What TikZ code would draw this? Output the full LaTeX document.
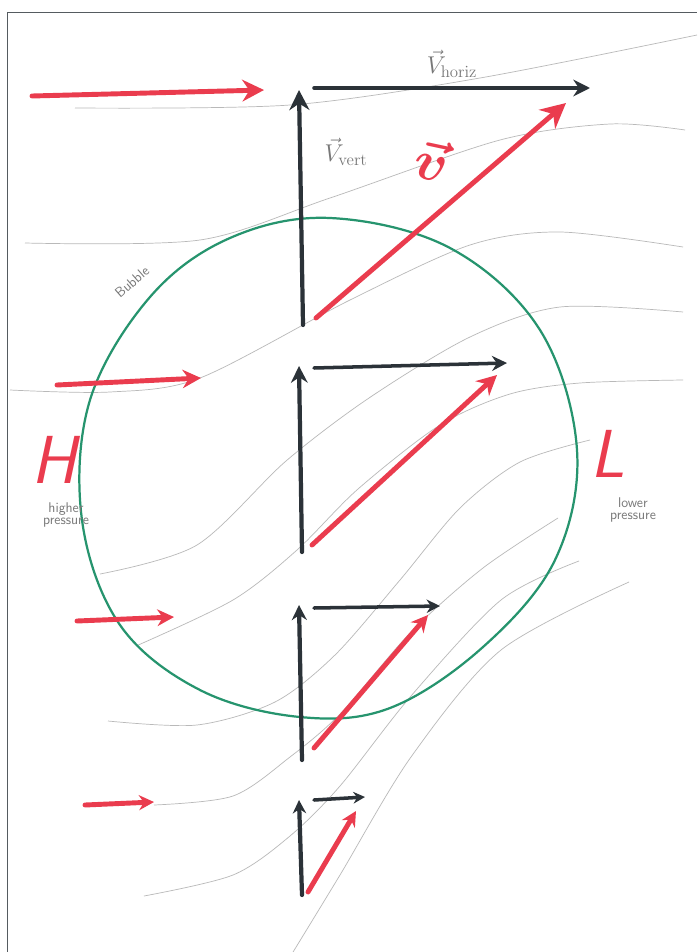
\documentclass[tikz,border=0pt]{standalone}
\usepackage{amsmath,amssymb}
\usepackage{graphicx}
\usepackage{xcolor}
\usepackage{tikz}
\usetikzlibrary{arrows.meta,calc}
\definecolor{inkblack}{RGB}{43,50,56}
\definecolor{inkred}{RGB}{234,60,78}
\definecolor{inkgreen}{RGB}{38,148,110}
\definecolor{pencil}{RGB}{185,185,185}
\definecolor{penciltext}{RGB}{120,120,120}
\tikzset{
  frame/.style={draw=inkblack!80, line width=0.8pt},
  stream/.style={draw=pencil, line width=0.6pt},
  bubbleline/.style={draw=inkgreen, line width=1.9pt},
  upar/.style={-{Stealth[length=#1, width=#1]}, line width=3.6pt, draw=inkblack, line cap=round},
  sidear/.style={-{Stealth[length=#1, width=#1]}, line width=3pt, draw=inkblack, line cap=round},
  velar/.style={-{Stealth[length=#1, width=#1]}, line width=4.2pt, draw=inkred, line cap=round},
  windar/.style={-{Stealth[length=#1, width=#1]}, line width=4.2pt, draw=inkred, line cap=round},
  note/.style={text=penciltext, font=\sffamily\fontsize{12}{13}\selectfont, align=center, inner sep=1pt},
  veclabel/.style={text=penciltext, font=\fontsize{20.74}{22}\selectfont, inner sep=1pt},
  redlabel/.style={text=inkred, font=\Huge, inner sep=0pt},
  presslabel/.style={text=inkred, font=\sffamily\itshape\fontsize{58}{60}\selectfont, inner sep=0pt},
}
\begin{document}
\begin{tikzpicture}[x=0.03cm, y=-0.03cm]
  \useasboundingbox (0,0) rectangle (697,952);
  \fill[white] (0,0) rectangle (697,952);
  \draw[frame] (7,952) -- (7,12) -- (697,12);

  % streamlines
  \draw[stream] plot[smooth] coordinates {(75,108) (290,105) (480,78) (697,35)};
  \draw[stream] plot[smooth] coordinates {(25,243) (200,240) (330,198) (500,140) (610,124) (685,130)};
  \draw[stream] plot[smooth] coordinates {(10,390) (110,392) (200,378) (350,300) (470,245) (560,232) (683,247)};
  \draw[stream] plot[smooth] coordinates {(100,574) (197,545) (286,461) (369,398) (470,337) (560,307) (683,312)};
  \draw[stream] plot[smooth] coordinates {(136,646) (233,600) (297,550) (358,489) (440,425) (510,394) (580,383) (683,380)};
  \draw[stream] plot[smooth] coordinates {(108,721) (197,725) (275,702) (335,655) (400,580) (460,508) (520,462) (590,440)};
  \draw[stream] plot[smooth] coordinates {(154,805) (233,796) (290,757) (340,714) (411,632) (483,568) (558,518)};
  \draw[stream] plot[smooth] coordinates {(144,896) (233,875) (290,836) (340,786) (411,696) (501,600) (579,561)};
  \draw[stream] plot[smooth] coordinates {(290,957) (340,875) (411,757) (501,650) (629,582)};

  % bubble
  \draw[bubbleline] plot[smooth cycle, tension=0.6] coordinates {(330,218) (450,248) (540,330) (577,450) (555,560) (483,647) (390,708) (300,717) (200,690) (120,625) (82,520) (90,400) (150,297) (230,238)};

  % velocity triangles
  \coordinate (b1) at (303,325); \coordinate (t1) at (299,90);
  \coordinate (h1) at (314,88);  \coordinate (e1) at (590,88);
  \coordinate (r1) at (316,318); \coordinate (s1) at (566,103);
  \coordinate (b2) at (302,552); \coordinate (t2) at (299,366);
  \coordinate (h2) at (314,368); \coordinate (e2) at (507,363);
  \coordinate (r2) at (312,545); \coordinate (s2) at (497,375);
  \coordinate (b3) at (302,760); \coordinate (t3) at (299,605);
  \coordinate (h3) at (314,608); \coordinate (e3) at (440,606);
  \coordinate (r3) at (314,748); \coordinate (s3) at (428,615);
  \coordinate (b4) at (302,895); \coordinate (t4) at (299,800);
  \coordinate (h4) at (314,800); \coordinate (e4) at (365,797);
  \coordinate (r4) at (308,892); \coordinate (s4) at (356,811);

  \draw[upar=6mm] (b1) -- (t1);
  \draw[sidear=5mm] (h1) -- (e1);
  \draw[velar=7.5mm] (r1) -- (s1);
  \draw[upar=5mm] (b2) -- (t2);
  \draw[sidear=4.5mm] (h2) -- (e2);
  \draw[velar=6mm] (r2) -- (s2);
  \draw[upar=4.5mm] (b3) -- (t3);
  \draw[sidear=4mm] (h3) -- (e3);
  \draw[velar=5mm] (r3) -- (s3);
  \draw[upar=4mm] (b4) -- (t4);
  \draw[sidear=3.5mm] (h4) -- (e4);
  \draw[velar=4.5mm] (r4) -- (s4);

  % incoming wind
  \coordinate (w1) at (32,96);  \coordinate (v1) at (264,90);
  \coordinate (w2) at (57,385); \coordinate (v2) at (201,378);
  \coordinate (w3) at (77,621); \coordinate (v3) at (174,617);
  \coordinate (w4) at (85,805); \coordinate (v4) at (154,802);
  \draw[windar=6.5mm] (w1) -- (v1);
  \draw[windar=5.5mm] (w2) -- (v2);
  \draw[windar=5mm] (w3) -- (v3);
  \draw[windar=4.5mm] (w4) -- (v4);

  % labels
  \node[veclabel] (vh) at (452,64) {$\vec{V}_{\mathrm{horiz}}$};
  \node[veclabel] (vv) at (346,152) {$\vec{V}_{\mathrm{vert}}$};
  \node[redlabel, rotate=-12] (vr) at (432,160) {\scalebox{1.9}{$\boldsymbol{\vec{v}}$}};
  \node[note, rotate=41] (bub) at (132,282) {Bubble};
  \node[presslabel] (hi) at (54,460) {H};
  \node[note] (hip) at (66,515) {higher\\[-3pt]pressure};
  \node[presslabel] (lo) at (608,454) {L};
  \node[note] (lop) at (633,510) {lower\\[-3pt]pressure};
\end{tikzpicture}
\end{document}
